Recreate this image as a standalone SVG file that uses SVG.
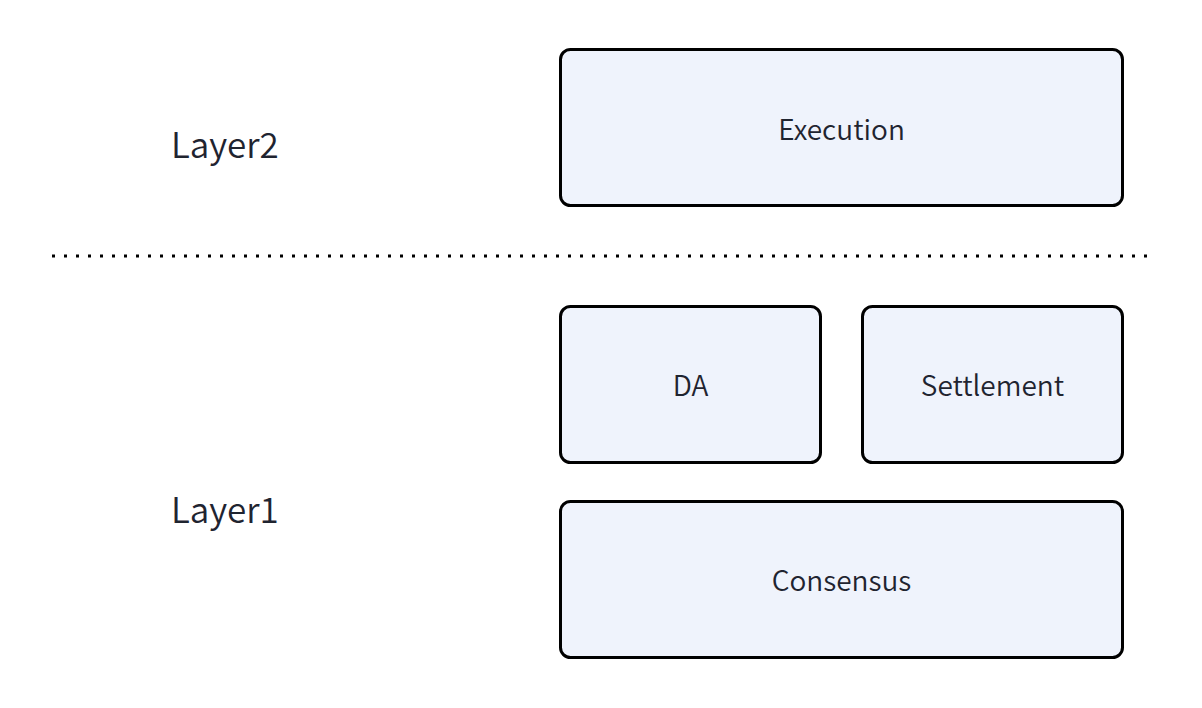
<svg xmlns="http://www.w3.org/2000/svg" width="1202" height="708" viewBox="0 0 1202 708">
  <style>
    .box { fill: #eff3fc; stroke: #000; stroke-width: 3; }
    .label { font-family: "Noto Sans CJK SC", "Noto Sans", sans-serif; font-size: 28px; font-weight: 350; fill: #1f2430; text-anchor: middle; dominant-baseline: central; }
    .layer { font-family: "Noto Sans CJK SC", "Noto Sans", sans-serif; font-size: 35px; font-weight: 350; fill: #1f2430; dominant-baseline: central; }
    .divider { stroke: #000; stroke-width: 3; stroke-dasharray: 3 9; fill: none; }
  </style>
  <rect width="1202" height="708" fill="#fff"/>

  <g id="layer2-label"><text class="layer" x="171" y="142">Layer2</text></g>
  <g id="layer1-label"><text class="layer" x="171" y="507">Layer1</text></g>

  <g id="connectors">
    <line class="divider" x1="52" y1="256" x2="1150" y2="256"/>
  </g>

  <g id="execution">
    <rect class="box" x="560.5" y="49.5" width="562" height="156" rx="10"/>
    <text class="label" x="841.5" y="128">Execution</text>
  </g>
  <g id="da">
    <rect class="box" x="560.5" y="306.5" width="260" height="156" rx="10"/>
    <text class="label" x="690.5" y="384">DA</text>
  </g>
  <g id="settlement">
    <rect class="box" x="862.5" y="306.5" width="260" height="156" rx="10"/>
    <text class="label" x="992.5" y="384">Settlement</text>
  </g>
  <g id="consensus">
    <rect class="box" x="560.5" y="501.5" width="562" height="156" rx="10"/>
    <text class="label" x="841.5" y="579">Consensus</text>
  </g>
</svg>
